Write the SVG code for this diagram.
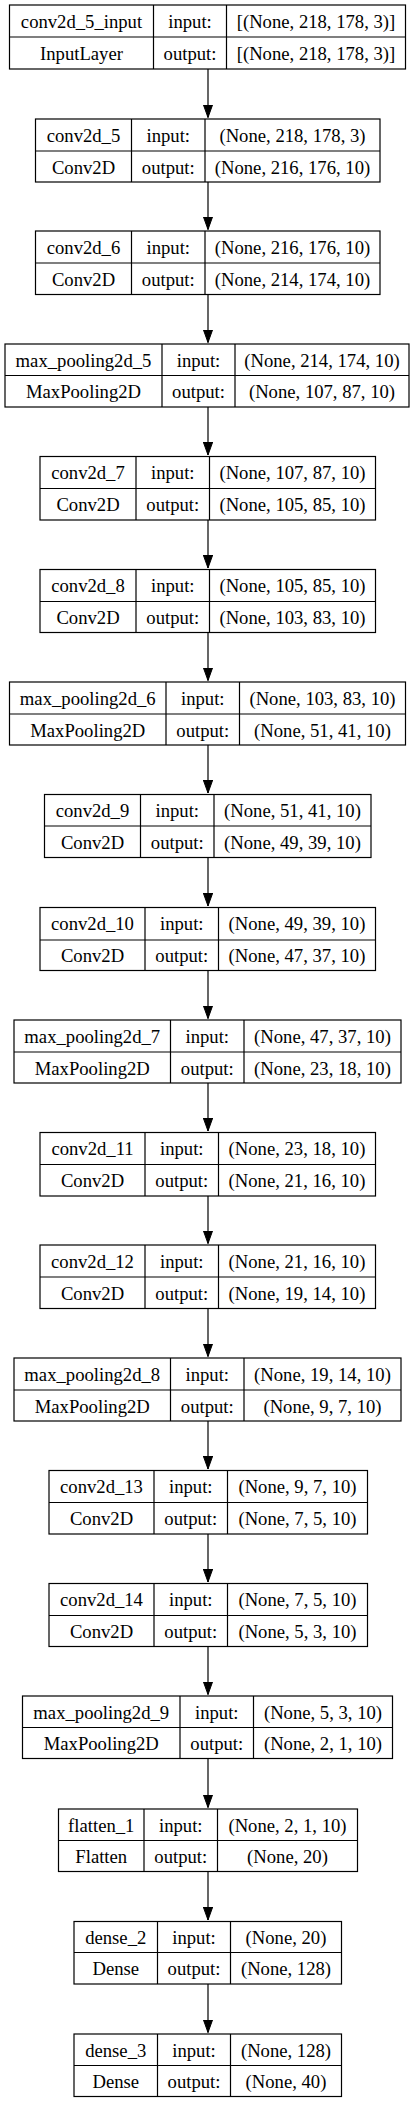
<svg xmlns="http://www.w3.org/2000/svg" width="416" height="2103" viewBox="0 0 416 2103">
<style>
.b{fill:#fff;stroke:#000;stroke-width:1.2}
.l{fill:none;stroke:#000;stroke-width:1.2}
text{font-family:"Liberation Serif","Times New Roman",serif;font-size:18.67px;fill:#000;text-anchor:middle}
.e{fill:none;stroke:#000;stroke-width:1.2;marker-end:url(#ah)}
</style>
<defs>
<marker id="ah" markerUnits="userSpaceOnUse" viewBox="0 0 13 10" refX="13" refY="5" markerWidth="13" markerHeight="10" orient="auto">
<path d="M0,0.3 L13,5 L0,9.7 Z" fill="#000" stroke="#000" stroke-width="1"/>
</marker>
</defs>
<rect width="416" height="2103" fill="#fff"/>
<g id="edges">
<path class="e" d="M208 69 V117.5"/>
<path class="e" d="M208 182 V229.5"/>
<path class="e" d="M208 294.5 V342.5"/>
<path class="e" d="M208 407 V455"/>
<path class="e" d="M208 520 V568"/>
<path class="e" d="M208 632.5 V680.5"/>
<path class="e" d="M208 745 V793"/>
<path class="e" d="M208 857.5 V906"/>
<path class="e" d="M208 970.5 V1018.5"/>
<path class="e" d="M208 1083 V1131"/>
<path class="e" d="M208 1196 V1243.5"/>
<path class="e" d="M208 1308.5 V1356.5"/>
<path class="e" d="M208 1421 V1469"/>
<path class="e" d="M208 1534 V1582"/>
<path class="e" d="M208 1646.5 V1694.5"/>
<path class="e" d="M208 1758.5 V1807.5"/>
<path class="e" d="M208 1871.5 V1920"/>
<path class="e" d="M208 1984 V2032.5"/>
</g>
<g id="conv2d_5_input">
<rect class="b" x="9.5" y="5" width="396" height="64"/>
<path class="l" d="M9.5 37 H405.5 M153.5 5 V69 M226.5 5 V69"/>
<text x="81.5" y="28">conv2d_5_input</text><text x="190" y="28">input:</text><text x="316" y="28">[(None, 218, 178, 3)]</text>
<text x="81.5" y="60">InputLayer</text><text x="190" y="60">output:</text><text x="316" y="60">[(None, 218, 178, 3)]</text>
</g>
<g id="conv2d_5">
<rect class="b" x="35.5" y="119" width="344.5" height="63"/>
<path class="l" d="M35.5 151 H380 M131.5 119 V182 M205 119 V182"/>
<text x="83.5" y="141.5">conv2d_5</text><text x="168.25" y="141.5">input:</text><text x="292.5" y="141.5">(None, 218, 178, 3)</text>
<text x="83.5" y="173.5">Conv2D</text><text x="168.25" y="173.5">output:</text><text x="292.5" y="173.5">(None, 216, 176, 10)</text>
</g>
<g id="conv2d_6">
<rect class="b" x="35.5" y="231" width="344.5" height="63.5"/>
<path class="l" d="M35.5 263 H380 M131.5 231 V294.5 M205 231 V294.5"/>
<text x="83.5" y="253.5">conv2d_6</text><text x="168.25" y="253.5">input:</text><text x="292.5" y="253.5">(None, 216, 176, 10)</text>
<text x="83.5" y="285.5">Conv2D</text><text x="168.25" y="285.5">output:</text><text x="292.5" y="285.5">(None, 214, 174, 10)</text>
</g>
<g id="max_pooling2d_5">
<rect class="b" x="5" y="344" width="404" height="63"/>
<path class="l" d="M5 375.5 H409 M162 344 V407 M235 344 V407"/>
<text x="83.5" y="366.5">max_pooling2d_5</text><text x="198.5" y="366.5">input:</text><text x="322" y="366.5">(None, 214, 174, 10)</text>
<text x="83.5" y="398">MaxPooling2D</text><text x="198.5" y="398">output:</text><text x="322" y="398">(None, 107, 87, 10)</text>
</g>
<g id="conv2d_7">
<rect class="b" x="40" y="456.5" width="335.5" height="63.5"/>
<path class="l" d="M40 488.5 H375.5 M136 456.5 V520 M209.5 456.5 V520"/>
<text x="88" y="479">conv2d_7</text><text x="172.75" y="479">input:</text><text x="292.5" y="479">(None, 107, 87, 10)</text>
<text x="88" y="511">Conv2D</text><text x="172.75" y="511">output:</text><text x="292.5" y="511">(None, 105, 85, 10)</text>
</g>
<g id="conv2d_8">
<rect class="b" x="40" y="569.5" width="335.5" height="63"/>
<path class="l" d="M40 601.5 H375.5 M136 569.5 V632.5 M209.5 569.5 V632.5"/>
<text x="88" y="592">conv2d_8</text><text x="172.75" y="592">input:</text><text x="292.5" y="592">(None, 105, 85, 10)</text>
<text x="88" y="624">Conv2D</text><text x="172.75" y="624">output:</text><text x="292.5" y="624">(None, 103, 83, 10)</text>
</g>
<g id="max_pooling2d_6">
<rect class="b" x="9.5" y="682" width="396" height="63"/>
<path class="l" d="M9.5 714 H405.5 M166 682 V745 M239.5 682 V745"/>
<text x="87.75" y="704.5">max_pooling2d_6</text><text x="202.75" y="704.5">input:</text><text x="322.5" y="704.5">(None, 103, 83, 10)</text>
<text x="87.75" y="736.5">MaxPooling2D</text><text x="202.75" y="736.5">output:</text><text x="322.5" y="736.5">(None, 51, 41, 10)</text>
</g>
<g id="conv2d_9">
<rect class="b" x="44.5" y="794.5" width="326.5" height="63"/>
<path class="l" d="M44.5 826 H371 M140.5 794.5 V857.5 M214 794.5 V857.5"/>
<text x="92.5" y="817">conv2d_9</text><text x="177.25" y="817">input:</text><text x="292.5" y="817">(None, 51, 41, 10)</text>
<text x="92.5" y="848.5">Conv2D</text><text x="177.25" y="848.5">output:</text><text x="292.5" y="848.5">(None, 49, 39, 10)</text>
</g>
<g id="conv2d_10">
<rect class="b" x="40" y="907.5" width="335.5" height="63"/>
<path class="l" d="M40 940 H375.5 M145 907.5 V970.5 M218.5 907.5 V970.5"/>
<text x="92.5" y="930">conv2d_10</text><text x="181.75" y="930">input:</text><text x="297" y="930">(None, 49, 39, 10)</text>
<text x="92.5" y="962">Conv2D</text><text x="181.75" y="962">output:</text><text x="297" y="962">(None, 47, 37, 10)</text>
</g>
<g id="max_pooling2d_7">
<rect class="b" x="14" y="1020" width="387" height="63"/>
<path class="l" d="M14 1052 H401 M170.5 1020 V1083 M244 1020 V1083"/>
<text x="92.25" y="1042.5">max_pooling2d_7</text><text x="207.25" y="1042.5">input:</text><text x="322.5" y="1042.5">(None, 47, 37, 10)</text>
<text x="92.25" y="1074.5">MaxPooling2D</text><text x="207.25" y="1074.5">output:</text><text x="322.5" y="1074.5">(None, 23, 18, 10)</text>
</g>
<g id="conv2d_11">
<rect class="b" x="40" y="1132.5" width="335.5" height="63.5"/>
<path class="l" d="M40 1164.5 H375.5 M145 1132.5 V1196 M218.5 1132.5 V1196"/>
<text x="92.5" y="1155">conv2d_11</text><text x="181.75" y="1155">input:</text><text x="297" y="1155">(None, 23, 18, 10)</text>
<text x="92.5" y="1187">Conv2D</text><text x="181.75" y="1187">output:</text><text x="297" y="1187">(None, 21, 16, 10)</text>
</g>
<g id="conv2d_12">
<rect class="b" x="40" y="1245" width="335.5" height="63.5"/>
<path class="l" d="M40 1277 H375.5 M145 1245 V1308.5 M218.5 1245 V1308.5"/>
<text x="92.5" y="1267.5">conv2d_12</text><text x="181.75" y="1267.5">input:</text><text x="297" y="1267.5">(None, 21, 16, 10)</text>
<text x="92.5" y="1299.5">Conv2D</text><text x="181.75" y="1299.5">output:</text><text x="297" y="1299.5">(None, 19, 14, 10)</text>
</g>
<g id="max_pooling2d_8">
<rect class="b" x="14" y="1358" width="387" height="63"/>
<path class="l" d="M14 1390 H401 M170.5 1358 V1421 M244 1358 V1421"/>
<text x="92.25" y="1380.5">max_pooling2d_8</text><text x="207.25" y="1380.5">input:</text><text x="322.5" y="1380.5">(None, 19, 14, 10)</text>
<text x="92.25" y="1412.5">MaxPooling2D</text><text x="207.25" y="1412.5">output:</text><text x="322.5" y="1412.5">(None, 9, 7, 10)</text>
</g>
<g id="conv2d_13">
<rect class="b" x="49" y="1470.5" width="318.5" height="63.5"/>
<path class="l" d="M49 1502.5 H367.5 M154 1470.5 V1534 M227.5 1470.5 V1534"/>
<text x="101.5" y="1493">conv2d_13</text><text x="190.75" y="1493">input:</text><text x="297.5" y="1493">(None, 9, 7, 10)</text>
<text x="101.5" y="1525">Conv2D</text><text x="190.75" y="1525">output:</text><text x="297.5" y="1525">(None, 7, 5, 10)</text>
</g>
<g id="conv2d_14">
<rect class="b" x="49" y="1583.5" width="318.5" height="63"/>
<path class="l" d="M49 1615.5 H367.5 M154 1583.5 V1646.5 M227.5 1583.5 V1646.5"/>
<text x="101.5" y="1606">conv2d_14</text><text x="190.75" y="1606">input:</text><text x="297.5" y="1606">(None, 7, 5, 10)</text>
<text x="101.5" y="1638">Conv2D</text><text x="190.75" y="1638">output:</text><text x="297.5" y="1638">(None, 5, 3, 10)</text>
</g>
<g id="max_pooling2d_9">
<rect class="b" x="22.5" y="1696" width="370" height="62.5"/>
<path class="l" d="M22.5 1727.5 H392.5 M180 1696 V1758.5 M253.5 1696 V1758.5"/>
<text x="101.25" y="1718.5">max_pooling2d_9</text><text x="216.75" y="1718.5">input:</text><text x="323" y="1718.5">(None, 5, 3, 10)</text>
<text x="101.25" y="1750">MaxPooling2D</text><text x="216.75" y="1750">output:</text><text x="323" y="1750">(None, 2, 1, 10)</text>
</g>
<g id="flatten_1">
<rect class="b" x="58.5" y="1809" width="299" height="62.5"/>
<path class="l" d="M58.5 1840.5 H357.5 M144 1809 V1871.5 M217.5 1809 V1871.5"/>
<text x="101.25" y="1831.5">flatten_1</text><text x="180.75" y="1831.5">input:</text><text x="287.5" y="1831.5">(None, 2, 1, 10)</text>
<text x="101.25" y="1863">Flatten</text><text x="180.75" y="1863">output:</text><text x="287.5" y="1863">(None, 20)</text>
</g>
<g id="dense_2">
<rect class="b" x="74" y="1921.5" width="267.5" height="62.5"/>
<path class="l" d="M74 1952.5 H341.5 M157.5 1921.5 V1984 M230.5 1921.5 V1984"/>
<text x="115.75" y="1944">dense_2</text><text x="194" y="1944">input:</text><text x="286" y="1944">(None, 20)</text>
<text x="115.75" y="1975">Dense</text><text x="194" y="1975">output:</text><text x="286" y="1975">(None, 128)</text>
</g>
<g id="dense_3">
<rect class="b" x="74" y="2034" width="267.5" height="62.5"/>
<path class="l" d="M74 2065.5 H341.5 M157.5 2034 V2096.5 M230.5 2034 V2096.5"/>
<text x="115.75" y="2056.5">dense_3</text><text x="194" y="2056.5">input:</text><text x="286" y="2056.5">(None, 128)</text>
<text x="115.75" y="2088">Dense</text><text x="194" y="2088">output:</text><text x="286" y="2088">(None, 40)</text>
</g>
</svg>
